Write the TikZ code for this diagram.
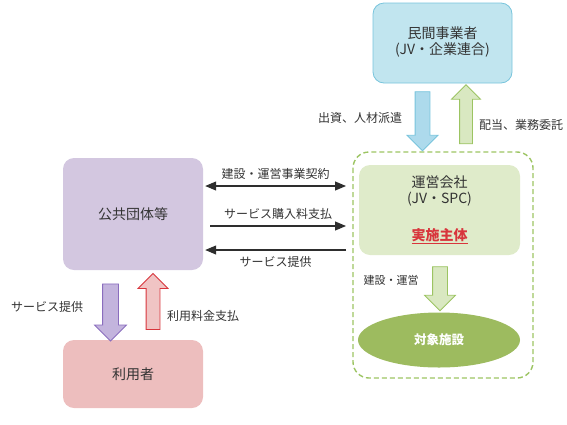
\documentclass[tikz,border=0pt]{standalone}
\usepackage{fontspec}
\setmainfont{Noto Sans CJK JP}
\usetikzlibrary{positioning, shapes.geometric, shapes.arrows, arrows.meta}
\definecolor{pfiInk}{HTML}{333333}
\definecolor{pfiBlue}{HTML}{C1E5EF}
\definecolor{pfiBlueLine}{HTML}{78C4DC}
\definecolor{pfiBlueArrow}{HTML}{ADDAEC}
\definecolor{pfiGreen}{HTML}{9CC462}
\definecolor{pfiGreenPale}{HTML}{D9E8C1}
\definecolor{pfiGreenBox}{HTML}{DFEBCA}
\definecolor{pfiOlive}{HTML}{9DBB5F}
\definecolor{pfiLilac}{HTML}{D3C7E0}
\definecolor{pfiLilacArrow}{HTML}{C3B4DD}
\definecolor{pfiPurple}{HTML}{8A6DBE}
\definecolor{pfiRose}{HTML}{EDBEBE}
\definecolor{pfiRosePale}{HTML}{F0C4C4}
\definecolor{pfiRed}{HTML}{D8353C}
\tikzset{
  box/.style={rounded corners=11pt, inner sep=0pt},
  blockarrow/.style={single arrow, single arrow head extend=8pt,
    inner xsep=0pt, inner ysep=#1, minimum width=1pt, line width=0.8pt},
  flow/.style={line width=1.1pt, pfiInk!90!black},
  lbl/.style={font=\fontsize{12}{14}\selectfont, text=pfiInk}
}
\begin{document}
\begin{tikzpicture}[x=1pt, y=-1pt, font=\fontsize{14}{17}\selectfont]
  \useasboundingbox (0,0) rectangle (567,424);

  % boxes
  \node[box, fill=pfiBlue, draw=pfiBlueLine, line width=0.8pt,
        minimum width=139pt, minimum height=80pt] (minkan) at (442.5,43) {};
  \node[text=pfiInk] at (442.5,33) {民間事業者};
  \node[text=pfiInk] at (442.5,50) {(JV・企業連合)};

  \draw[pfiGreen, line width=1.4pt, dash pattern=on 5pt off 3pt,
        rounded corners=16pt] (353,152) rectangle (533,378);
  \coordinate (frameW) at (353,200);

  \node[box, fill=pfiGreenBox, minimum width=161pt, minimum height=90pt]
        (unei) at (439.5,210) {};
  \node[text=pfiInk] at (439.5,182) {運営会社};
  \node[text=pfiInk] at (439.5,199) {(JV・SPC)};
  \node[text=pfiRed, font=\fontsize{14}{17}\selectfont\bfseries]
        (jisshi) at (439.5,236) {\underline{実施主体}};

  \node[ellipse, fill=pfiOlive, minimum width=162pt, minimum height=55pt,
        text=white, font=\fontsize{12.5}{15}\selectfont\bfseries]
        (shisetsu) at (439,340) {対象施設};

  \node[box, fill=pfiLilac, minimum width=140pt, minimum height=112pt,
        text=pfiInk] (kokyo) at (133,214) {公共団体等};
  \node[box, fill=pfiRose, minimum width=140pt, minimum height=68pt,
        text=pfiInk] (riyosha) at (133,374) {利用者};

  % block arrows
  \node[blockarrow=7pt, fill=pfiBlueArrow, draw=pfiBlueLine, rotate=-90,
        minimum height=59pt] (shusshi) at (422.5,117.5) {};
  \node[blockarrow=6pt, fill=pfiGreenPale, draw=pfiGreen, rotate=90,
        minimum height=59pt] (haito) at (466,117.5) {};
  \node[blockarrow=7pt, fill=pfiGreenPale, draw=pfiGreen, rotate=-90,
        minimum height=44pt] (kensetsu) at (440,285) {};
  \node[blockarrow=7.5pt, fill=pfiLilacArrow, draw=pfiPurple, rotate=-90,
        minimum height=57pt] (teikyo) at (110.5,308.5) {};
  \node[blockarrow=6.5pt, fill=pfiRosePale, draw=pfiRed, rotate=90,
        minimum height=56pt] (ryokin) at (153,305) {};

  \node[lbl] at (360,118) {出資、人材派遣};
  \node[lbl] at (521,125) {配当、業務委託};
  \node[lbl, font=\fontsize{11}{13}\selectfont] at (391,280) {建設・運営};
  \node[lbl] at (47,307) {サービス提供};
  \node[lbl] at (203,316) {利用料金支払};

  % contract flows
  \draw[flow, {Triangle[length=11pt,width=9pt]}-{Triangle[length=11pt,width=9pt]}]
    ([xshift=2pt]kokyo.east |- 0,186) -- ([xshift=-7pt]frameW |- 0,186)
    node[lbl, midway, above=3pt] {建設・運営事業契約};
  \draw[flow, -{Triangle[length=11pt,width=9pt]}]
    ([xshift=7pt]kokyo.east |- 0,226) -- ([xshift=-7pt]frameW |- 0,226)
    node[lbl, midway, above=3pt] {サービス購入料支払};
  \draw[flow, -{Triangle[length=11pt,width=9pt]}]
    ([xshift=-7pt]frameW |- 0,250) -- ([xshift=2pt]kokyo.east |- 0,250)
    node[lbl, midway, below=3pt] {サービス提供};
\end{tikzpicture}
\end{document}
